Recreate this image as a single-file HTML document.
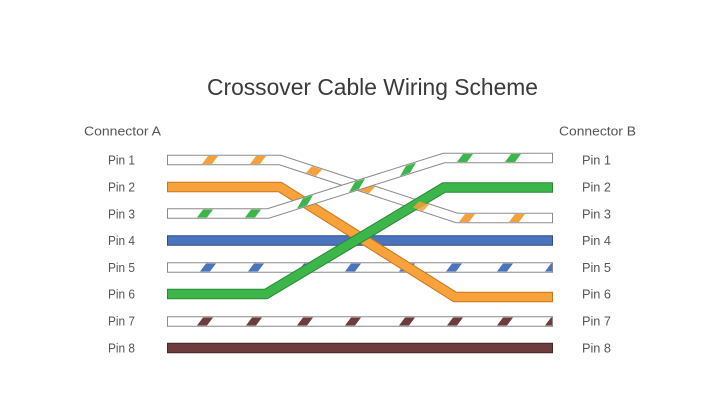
<!DOCTYPE html>
<html><head><meta charset="utf-8"><style>
html,body{margin:0;padding:0;background:#fff;}
svg{display:block;}
text{font-family:"Liberation Sans",sans-serif;}
</style></head><body>
<svg width="720" height="413" viewBox="0 0 720 413" xmlns="http://www.w3.org/2000/svg">
<rect width="720" height="413" fill="#fff"/>
<text x="207" y="95" font-size="23" fill="#3a3a3a" textLength="331" lengthAdjust="spacingAndGlyphs">Crossover Cable Wiring Scheme</text>
<text x="84" y="135.5" font-size="12.5" fill="#555" textLength="77" lengthAdjust="spacingAndGlyphs">Connector A</text>
<text x="559" y="135.5" font-size="12.5" fill="#555" textLength="77" lengthAdjust="spacingAndGlyphs">Connector B</text>
<g font-size="13" fill="#555">
<text x="108" y="164.3" textLength="27" lengthAdjust="spacingAndGlyphs">Pin 1</text>
<text x="108" y="191.3" textLength="27" lengthAdjust="spacingAndGlyphs">Pin 2</text>
<text x="108" y="218.3" textLength="27" lengthAdjust="spacingAndGlyphs">Pin 3</text>
<text x="108" y="245" textLength="27" lengthAdjust="spacingAndGlyphs">Pin 4</text>
<text x="108" y="272" textLength="27" lengthAdjust="spacingAndGlyphs">Pin 5</text>
<text x="108" y="298.5" textLength="27" lengthAdjust="spacingAndGlyphs">Pin 6</text>
<text x="108" y="325.3" textLength="27" lengthAdjust="spacingAndGlyphs">Pin 7</text>
<text x="108" y="352.3" textLength="27" lengthAdjust="spacingAndGlyphs">Pin 8</text>
<text x="582" y="164.3" textLength="29" lengthAdjust="spacingAndGlyphs">Pin 1</text>
<text x="582" y="191.3" textLength="29" lengthAdjust="spacingAndGlyphs">Pin 2</text>
<text x="582" y="218.3" textLength="29" lengthAdjust="spacingAndGlyphs">Pin 3</text>
<text x="582" y="245" textLength="29" lengthAdjust="spacingAndGlyphs">Pin 4</text>
<text x="582" y="272" textLength="29" lengthAdjust="spacingAndGlyphs">Pin 5</text>
<text x="582" y="298.5" textLength="29" lengthAdjust="spacingAndGlyphs">Pin 6</text>
<text x="582" y="325.3" textLength="29" lengthAdjust="spacingAndGlyphs">Pin 7</text>
<text x="582" y="352.3" textLength="29" lengthAdjust="spacingAndGlyphs">Pin 8</text>
</g>

<g fill="none" stroke-linejoin="miter" stroke-linecap="butt">
<!-- Pin 4 blue -->
<path d="M167,240.5 H553" stroke="#2f4f86" stroke-width="10.5"/>
<path d="M168,240.5 H552" stroke="#4a74bd" stroke-width="8.5"/>
<!-- Pin 5 white/blue -->
<path d="M167,267.5 H553" stroke="#8a8a8a" stroke-width="10.5"/>
<path d="M168,267.5 H552" stroke="#fff" stroke-width="8.5"/>
<!-- Pin 7 white/brown -->
<path d="M167,321.5 H553" stroke="#8a8a8a" stroke-width="10.5"/>
<path d="M168,321.5 H552" stroke="#fff" stroke-width="8.5"/>
<!-- Pin 8 brown -->
<path d="M167,348 H553" stroke="#4a2828" stroke-width="10.5"/>
<path d="M168,348 H552" stroke="#6d3c3c" stroke-width="8.5"/>
</g>
<!-- stripes pin5 -->
<g fill="#4a74bd">
<polygon points="200,271.5 210,271.5 216,263.5 206,263.5"/>
<polygon points="248,271.5 258,271.5 264,263.5 254,263.5"/>
<polygon points="298,271.5 308,271.5 314,263.5 304,263.5"/>
<polygon points="345,271.5 355,271.5 361,263.5 351,263.5"/>
<polygon points="399,271.5 409,271.5 415,263.5 405,263.5"/>
<polygon points="446,271.5 456,271.5 462,263.5 452,263.5"/>
<polygon points="497,271.5 507,271.5 513,263.5 503,263.5"/>
<polygon points="545,271.5 552,271.5 552,263.5 551,263.5"/>
</g>
<!-- stripes pin7 -->
<g fill="#6d3c3c">
<polygon points="197,325.5 207,325.5 213,317.5 203,317.5"/>
<polygon points="246,325.5 256,325.5 262,317.5 252,317.5"/>
<polygon points="297,325.5 307,325.5 313,317.5 303,317.5"/>
<polygon points="345,325.5 355,325.5 361,317.5 351,317.5"/>
<polygon points="399,325.5 409,325.5 415,317.5 405,317.5"/>
<polygon points="447,325.5 457,325.5 463,317.5 453,317.5"/>
<polygon points="497,325.5 507,325.5 513,317.5 503,317.5"/>
<polygon points="545,325.5 552,325.5 552,317.5 551,317.5"/>
</g>

<g fill="none" stroke-linejoin="miter" stroke-linecap="butt">
<!-- Pin 2 orange -->
<path d="M167,187 H280 L455,297 H553" stroke="#c9771e" stroke-width="10.5"/>
<path d="M168,187 H280 L455,297 H552" stroke="#f8a23c" stroke-width="8.5"/>
<!-- Pin 1 white/orange -->
<path d="M167,160 H280 L457,218 H553" stroke="#8a8a8a" stroke-width="10.5"/>
<path d="M168,160 H280 L457,218 H552" stroke="#fff" stroke-width="8.5"/>
</g>
<g fill="#f5a03a">
<polygon points="202,164 212,164 218,156 208,156"/>
<polygon points="250,164 260,164 266,156 256,156"/>
<polygon points="306,172.7 316,176 322,169.6 312,166.3"/>
<polygon points="359,190.1 369,193.4 375,186.9 365,183.6"/>
<polygon points="459,222 469,222 475,214 465,214"/>
<polygon points="509,222 519,222 525,214 515,214"/>
</g>

<g fill="none" stroke-linejoin="miter" stroke-linecap="butt">
<!-- Pin 6 green -->
<path d="M167,294 H266 L444,187.5 H553" stroke="#2a8a34" stroke-width="10.5"/>
<path d="M168,294 H266 L444,187.5 H552" stroke="#3cb54a" stroke-width="8.5"/>
</g>
<polygon fill="#f5a03a" opacity="0.85" points="413,207.8 423,211.1 429,204.6 419,201.3"/>

<g fill="none" stroke-linejoin="miter" stroke-linecap="butt">
<!-- Pin 3 white/green -->
<path d="M167,213.5 H268 L444,158 H553" stroke="#8a8a8a" stroke-width="10.5"/>
<path d="M168,213.5 H268 L444,158 H552" stroke="#fff" stroke-width="8.5"/>
</g>
<g fill="#3cb54a">
<polygon points="197,217.5 207,217.5 213,209.5 203,209.5"/>
<polygon points="245,217.5 255,217.5 261,209.5 251,209.5"/>
<polygon points="297,208.6 307,205.4 313,195.1 303,198.3"/>
<polygon points="349,192.2 359,189 365,178.7 355,181.9"/>
<polygon points="400,176.1 410,172.9 416,162.7 406,165.8"/>
<polygon points="457,162 467,162 473,154 463,154"/>
<polygon points="505,162 515,162 521,154 511,154"/>
</g>
</svg>
</body></html>
